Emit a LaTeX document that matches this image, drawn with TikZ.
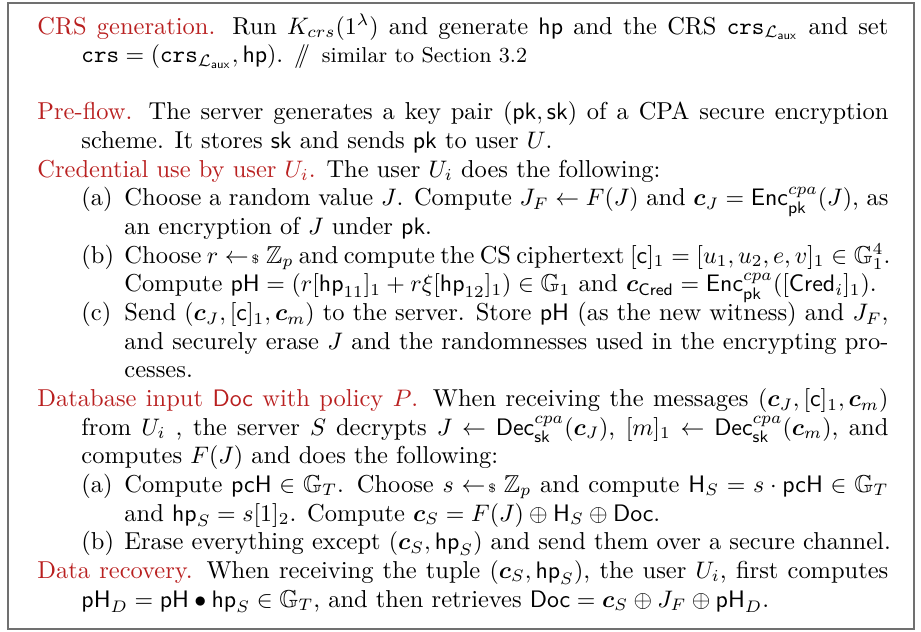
\documentclass[tikz,border=0pt]{standalone}
\usepackage{amsmath,amssymb}
\definecolor{titlered}{RGB}{185,32,32}
\definecolor{framegray}{RGB}{112,112,112}
% sampling arrow  r <-$ Z_p
\newcommand{\smp}{\mathrel{\leftarrow\!{\scriptscriptstyle\$}}}
\newcommand{\bc}{\boldsymbol{c}}
\newcommand{\crsL}{\mathtt{crs}_{\mathcal{L}_{\mathsf{aux}}}}
\newcommand{\ttl}[1]{\textcolor{titlered}{#1}}
% line widths of the three indentation levels
\newlength{\wTop}\setlength{\wTop}{356.4pt}
\newlength{\wHang}\setlength{\wHang}{338.0pt}
\newlength{\wItem}\setlength{\wItem}{320.0pt}
\newcommand{\jl}[2]{\makebox[#1][s]{#2}}
\begin{document}
\begin{tikzpicture}[x=0.41885pt,y=-0.41885pt,
  ln/.style={anchor=base west, inner sep=0pt, font=\fontsize{10.25}{12.3}\selectfont},
  frame/.style={draw=framegray, line width=0.7pt}]
\useasboundingbox (0,0) rectangle (921,631);
\draw[frame] (8,3) rectangle (914,629);
% x positions: 37 top level, 81 hanging / item label, 124 item text
\def\xa{37}\def\xb{81}\def\xc{124}
% CRS generation
\node[ln] (l0) at (\xa,{34+28.65*0}) {\jl{\wTop}{\ttl{CRS generation.} Run $K_{crs}(1^\lambda)$ and generate $\mathsf{hp}$ and the CRS $\crsL$ and set}};
\node[ln] (l1) at (\xb,{34+28.65*1}) {$\mathtt{crs}=(\crsL,\mathsf{hp})$. $/\!\!/$\hspace{5pt}{\small similar to Section 3.2}};
% Pre-flow
\node[ln] (l3) at (\xa,{34+28.65*3}) {\jl{\wTop}{\ttl{Pre-flow.} The server generates a key pair $(\mathsf{pk},\mathsf{sk})$ of a CPA secure encryption}};
\node[ln] (l4) at (\xb,{34+28.65*4}) {scheme. It stores $\mathsf{sk}$ and sends $\mathsf{pk}$ to user $U$.};
% Credential use
\node[ln] (l5) at (\xa,{34+28.65*5}) {\ttl{Credential use by user $U_i$.} The user $U_i$ does the following:};
\node[ln] (a1) at (\xb,{34+28.65*6}) {(a)};
\node[ln] (l6) at (\xc,{34+28.65*6}) {\jl{\wItem}{Choose a random value $J$. Compute $J_F\leftarrow F(J)$ and $\bc_J=\mathsf{Enc}^{cpa}_{\mathsf{pk}}(J)$, as}};
\node[ln] (l7) at (\xc,{34+28.65*7}) {an encryption of $J$ under $\mathsf{pk}$.};
\node[ln] (b1) at (\xb,{34+28.65*8}) {(b)};
\node[ln] (l8) at (\xc,{34+28.65*8}) {\jl{\wItem}{Choose $r\smp\mathbb{Z}_p$ and compute the CS ciphertext $[\mathsf{c}]_1=[u_1,u_2,e,v]_1\in\mathbb{G}_1^4$.}};
\node[ln] (l9) at (\xc,{34+28.65*9}) {Compute $\mathsf{pH}=(r[\mathsf{hp}_{11}]_1+r\xi[\mathsf{hp}_{12}]_1)\in\mathbb{G}_1$ and $\bc_{\mathsf{Cred}}=\mathsf{Enc}^{cpa}_{\mathsf{pk}}([\mathsf{Cred}_i]_1)$.};
\node[ln] (c1) at (\xb,{34+28.65*10}) {(c)};
\node[ln] (l10) at (\xc,{34+28.65*10}) {\jl{\wItem}{Send $(\bc_J,[\mathsf{c}]_1,\bc_m)$ to the server. Store $\mathsf{pH}$ (as the new witness) and $J_F$,}};
\node[ln] (l11) at (\xc,{34+28.65*11}) {\jl{\wItem}{and securely erase $J$ and the randomnesses used in the encrypting pro-}};
\node[ln] (l12) at (\xc,{34+28.65*12}) {cesses.};
% Database input
\node[ln] (l13) at (\xa,{34+28.65*13}) {\jl{\wTop}{\ttl{Database input $\mathsf{Doc}$ with policy $P$.} When receiving the messages $(\bc_J,[\mathsf{c}]_1,\bc_m)$}};
\node[ln] (l14) at (\xb,{34+28.65*14}) {\jl{\wHang}{from $U_i$ , the server $S$ decrypts $J\leftarrow\mathsf{Dec}^{cpa}_{\mathsf{sk}}(\bc_J)$, $[m]_1\leftarrow\mathsf{Dec}^{cpa}_{\mathsf{sk}}(\bc_m)$, and}};
\node[ln] (l15) at (\xb,{34+28.65*15}) {computes $F(J)$ and does the following:};
\node[ln] (a2) at (\xb,{34+28.65*16}) {(a)};
\node[ln] (l16) at (\xc,{34+28.65*16}) {\jl{\wItem}{Compute $\mathsf{pcH}\in\mathbb{G}_T$. Choose $s\smp\mathbb{Z}_p$ and compute $\mathsf{H}_S=s\cdot\mathsf{pcH}\in\mathbb{G}_T$}};
\node[ln] (l17) at (\xc,{34+28.65*17}) {and $\mathsf{hp}_S=s[1]_2$. Compute $\bc_S=F(J)\oplus\mathsf{H}_S\oplus\mathsf{Doc}$.};
\node[ln] (b2) at (\xb,{34+28.65*18}) {(b)};
\node[ln] (l18) at (\xc,{34+28.65*18}) {Erase everything except $(\bc_S,\mathsf{hp}_S)$ and send them over a secure channel.};
% Data recovery
\node[ln] (l19) at (\xa,{34+28.65*19}) {\jl{\wTop}{\ttl{Data recovery.} When receiving the tuple $(\bc_S,\mathsf{hp}_S)$, the user $U_i$, first computes}};
\node[ln] (l20) at (\xb,{34+28.65*20}) {$\mathsf{pH}_D=\mathsf{pH}\bullet\mathsf{hp}_S\in\mathbb{G}_T$, and then retrieves $\mathsf{Doc}=\bc_S\oplus J_F\oplus\mathsf{pH}_D$.};
\end{tikzpicture}
\end{document}
